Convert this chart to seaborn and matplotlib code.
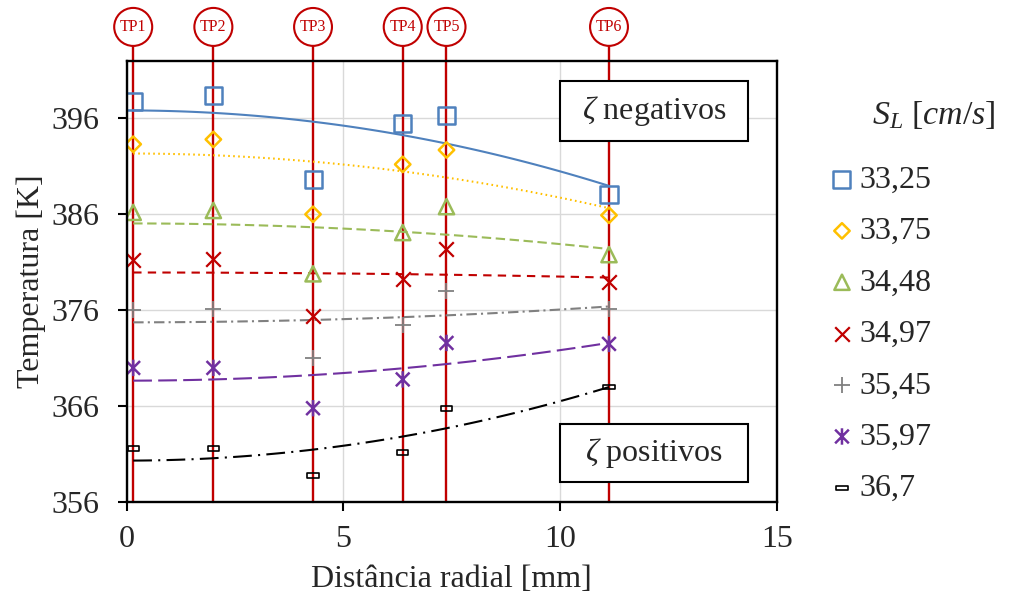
import numpy as np
import pandas as pd
import matplotlib
matplotlib.use("Agg")
import matplotlib.pyplot as plt
import seaborn as sns
from matplotlib.path import Path
from matplotlib.patches import Rectangle

# ---------------- data ----------------
tp_labels = ["TP1", "TP2", "TP3", "TP4", "TP5", "TP6"]
radial_mm = [0.15, 2.0, 4.3, 6.37, 7.38, 11.13]
speed_labels = ["33,25", "33,75", "34,48", "34,97", "35,45", "35,97", "36,7"]
t_3325 = [397.7, 398.4, 389.6, 395.5, 396.3, 388.1]
t_3375 = [393.3, 393.8, 386.0, 391.2, 392.7, 385.9]
t_3448 = [386.2, 386.4, 379.8, 384.1, 386.8, 381.8]
t_3497 = [381.2, 381.3, 375.4, 379.3, 382.4, 379.0]
t_3545 = [376.0, 376.1, 371.0, 374.5, 378.0, 376.1]
t_3597 = [370.0, 370.0, 365.8, 368.8, 372.6, 372.5]
t_3670 = [361.6, 361.6, 358.8, 361.2, 365.8, 368.0]
x_ticks = [0, 5, 10, 15]
y_ticks = [356, 366, 376, 386, 396]

series = [t_3325, t_3375, t_3448, t_3497, t_3545, t_3597, t_3670]

# ---------------- style ----------------
sns.set_theme(style="white")
plt.rcParams["font.family"] = ["Liberation Serif", "DejaVu Serif"]
plt.rcParams["mathtext.fontset"] = "custom"
plt.rcParams["mathtext.rm"] = "Liberation Serif"
plt.rcParams["mathtext.it"] = "Liberation Serif:italic"
plt.rcParams["mathtext.bf"] = "Liberation Serif:bold"

FS = 23
RED = "#C00000"
asterisk = Path([(-1, -1), (1, 1), (-1, 1), (1, -1), (0, -1.2), (0, 1.2)],
                [Path.MOVETO, Path.LINETO, Path.MOVETO, Path.LINETO, Path.MOVETO, Path.LINETO])
dash_rect = Path([(-1, -0.42), (1, -0.42), (1, 0.42), (-1, 0.42), (-1, -0.42)],
                 [Path.MOVETO, Path.LINETO, Path.LINETO, Path.LINETO, Path.CLOSEPOLY])

styles = [
    dict(color="#4F81BD", marker="s", s=150, lw=1.5, ls="-", mlw=1.8, hollow=True),
    dict(color="#FFC000", marker="D", s=62, lw=1.5, ls=(0, (0.8, 1.6)), mlw=1.8, hollow=True),
    dict(color="#9BBB59", marker="^", s=120, lw=1.5, ls=(0, (4.5, 2.2)), mlw=1.8, hollow=True),
    dict(color=RED, marker="x", s=110, lw=1.5, ls=(0, (4, 3)), mlw=1.6, hollow=False),
    dict(color="#808080", marker="+", s=120, lw=1.5, ls=(0, (5, 2, 1, 2)), mlw=1.3, hollow=False),
    dict(color="#7030A0", marker=asterisk, s=140, lw=1.5, ls=(0, (9, 3)), mlw=1.8, hollow=True),
    dict(color="#000000", marker=dash_rect, s=64, lw=1.5, ls=(0, (9, 3, 1, 3)), mlw=1.2, hollow=True),
]

fig = plt.figure(figsize=(10.12, 6.06), dpi=100)
ax = fig.add_axes([126.7 / 1012, 1 - 502.3 / 606, 650 / 1012, 441.6 / 606])

ax.set_xlim(0, 15)
ax.set_ylim(356, 402)
ax.set_xticks(x_ticks)
ax.set_yticks(y_ticks)
ax.grid(True, color="#D9D9D9", lw=1.0, zorder=0)
ax.set_axisbelow(True)

# TP vertical lines with circular labels
for lab, xv in zip(tp_labels, radial_mm):
    ax.axvline(xv, ymin=0, ymax=1.075, color=RED, lw=1.7, clip_on=False, zorder=2)
    ax.text(xv, 1.0765, lab, transform=ax.get_xaxis_transform(), ha="center", va="center",
            fontsize=11.5, color=RED, zorder=6, clip_on=False,
            bbox=dict(boxstyle="circle,pad=0.36", fc="white", ec=RED, lw=1.5))

r = np.asarray(radial_mm)
r_grid = np.linspace(r.min(), r.max(), 120)
for vals, lab, st in zip(series, speed_labels, styles):
    df = pd.DataFrame({"x": radial_mm, "y": vals})
    # radial trend line  T = a + b r^2 (least squares on the measured points)
    b, a = np.polyfit(r ** 2, np.asarray(vals), 1)
    trend = pd.DataFrame({"x": r_grid, "y": a + b * r_grid ** 2})
    sns.lineplot(data=trend, x="x", y="y", ax=ax, color=st["color"], lw=st["lw"],
                 ls=st["ls"], zorder=3, legend=False)
    sk = dict(s=st["s"], linewidths=st["mlw"], alpha=1, zorder=4, color=st["color"])
    if st["hollow"]:
        sk["facecolor"] = "none"
        sk["edgecolor"] = st["color"]
    sns.regplot(data=df, x="x", y="y", ax=ax, fit_reg=False, marker=st["marker"],
                scatter_kws=sk, label=lab)

# annotation boxes
for (y0, h, txt) in [(0.818, 0.136, r"$\zeta$ negativos"), (0.0466, 0.130, r"$\zeta$ positivos")]:
    ax.add_patch(Rectangle((0.6666, y0), 0.289, h, transform=ax.transAxes, fc="white",
                           ec="black", lw=1.5, zorder=7, clip_on=False))
    ax.text(0.6666 + 0.1445, y0 + h / 2, txt, transform=ax.transAxes, ha="center",
            va="center", fontsize=FS, zorder=8)

for sp in ax.spines.values():
    sp.set_color("black")
    sp.set_linewidth(1.7)
    sp.set_zorder(5)

ax.tick_params(axis="both", which="major", direction="out", length=6.5, width=1.5,
               color="black", labelsize=FS, left=True, bottom=True)
ax.tick_params(axis="y", pad=13)
ax.tick_params(axis="x", pad=10)
ax.set_xlabel("Distância radial [mm]", fontsize=FS, labelpad=8)
ax.set_ylabel("Temperatura [K]", fontsize=FS, labelpad=4)

handles, labels = ax.get_legend_handles_labels()
fig.legend(handles, labels, loc="upper left", bbox_to_anchor=(826 / 1012, 1 - 165.5 / 606),
           frameon=False, fontsize=FS, handlelength=1.0, handletextpad=0.05,
           labelspacing=0.69, borderpad=0, borderaxespad=0)
fig.text(872 / 1012, 1 - 115 / 606, r"$S_L\ [cm/s]$", ha="left", va="center", fontsize=24.5)

fig.savefig("out.png", dpi=100)
